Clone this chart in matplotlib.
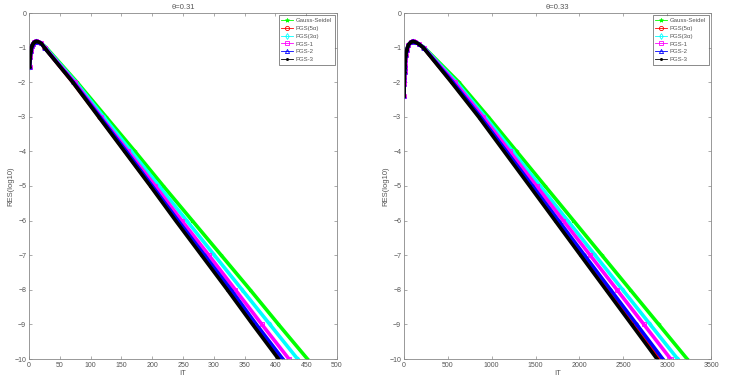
import numpy as np
import matplotlib
matplotlib.use('Agg')
import matplotlib.pyplot as plt

# ---- data ----
labels = ['Gauss-Seidel', 'PGS(5\u03b1)', 'PGS(3\u03b1)', 'PGS-1', 'PGS-2', 'PGS-3']
titles = ['\u03b8=0.31', '\u03b8=0.33']

# common start of every curve (iteration, log10 residual)
it_start_31 = [1, 2, 3, 4, 5, 6, 8, 10, 12, 15, 20]
res_start_31 = [-1.55, -1.27, -1.1, -1.0, -0.94, -0.9, -0.85, -0.83, -0.82, -0.83, -0.88]
it_start_33 = [1, 2, 3, 4, 6, 8, 10, 15, 20, 30, 50, 80, 100, 130, 170]
res_start_33 = [-2.4, -2.05, -1.95, -1.85, -1.7, -1.6, -1.5, -1.35, -1.22, -1.08, -0.92, -0.84, -0.82, -0.84, -0.9]

# iteration where each curve crosses these residual levels
levels = [-1, -2, -3, -4, -5, -6, -7, -8, -9, -10]

gs_31 = [28, 78, 125, 172, 218, 265, 312, 359, 405, 452]
pgs5a_31 = [25, 71, 114, 156, 198, 240, 282, 324, 366, 408]
pgs3a_31 = [27, 76, 121, 166, 211, 256, 301, 346, 391, 436]
pgs1_31 = [26, 74, 117, 161, 205, 248, 292, 335, 378, 422]
pgs2_31 = [25, 72, 115, 158, 200, 242, 285, 328, 369, 412]
pgs3_31 = [25, 71, 113, 155, 197, 238, 280, 322, 363, 405]

gs_33 = [232, 625, 960, 1284, 1608, 1932, 2256, 2580, 2904, 3228]
pgs5a_33 = [221, 548, 861, 1155, 1450, 1743, 2036, 2331, 2625, 2920]
pgs3a_33 = [228, 598, 925, 1239, 1553, 1866, 2179, 2493, 2806, 3120]
pgs1_33 = [225, 578, 900, 1205, 1511, 1816, 2122, 2428, 2734, 3040]
pgs2_33 = [222, 556, 871, 1168, 1465, 1762, 2058, 2356, 2653, 2950]
pgs3_33 = [220, 540, 850, 1141, 1432, 1722, 2012, 2303, 2594, 2885]

colors = [(0, 1, 0), (1, 0, 0), (0, 1, 1), (1, 0, 1), (0, 0, 1), (0, 0, 0)]
markers = ['*', 'o', 'd', 's', '^', '.']

panels = [
    (it_start_31, res_start_31, [gs_31, pgs5a_31, pgs3a_31, pgs1_31, pgs2_31, pgs3_31], 500, 50),
    (it_start_33, res_start_33, [gs_33, pgs5a_33, pgs3a_33, pgs1_33, pgs2_33, pgs3_33], 3500, 500),
]

txt = '#555555'
plt.rcParams['font.family'] = ['Arial', 'Liberation Sans', 'DejaVu Sans']
plt.rcParams['font.size'] = 5

fig = plt.figure(figsize=(7.49, 3.87), dpi=100)
rects = [[29/749, 28/387, 308/749, 346/387], [404/749, 28/387, 307/749, 346/387]]

for p, (its, ress, series, xmax, xstep) in enumerate(panels):
    ax = fig.add_axes(rects[p])
    for k in range(len(series)):
        x = list(its) + list(series[k])
        y = list(ress) + levels
        ax.plot(x, y, color=colors[k], marker=markers[k], markersize=2.5,
                markeredgewidth=0.6, markerfacecolor='none' if k in (1, 2, 3, 4) else colors[k],
                linewidth=2.6, label=labels[k])
    ax.set_xlim(0, xmax)
    ax.set_ylim(-10, 0)
    ax.set_xticks(np.arange(0, xmax + 1, xstep))
    ax.set_yticks(np.arange(-10, 1, 1))
    ax.tick_params(direction='in', top=True, right=True, length=2.5, width=0.5,
                   colors='#888888', labelcolor=txt, labelsize=5, pad=2)
    for s in ax.spines.values():
        s.set_color('#888888')
        s.set_linewidth(0.6)
    ax.set_title(titles[p], fontsize=5.5, color=txt, pad=3)
    ax.set_xlabel('IT', fontsize=5.5, color=txt, labelpad=1)
    ax.set_ylabel('RES(log10)', fontsize=5.5, color=txt, labelpad=0)
    leg = ax.legend(loc='upper right', fontsize=4.3, frameon=True, fancybox=False,
                    borderaxespad=0.4, handlelength=2.0, handletextpad=0.5,
                    labelspacing=0.45, borderpad=0.4)
    leg.get_frame().set_edgecolor('#333333')
    leg.get_frame().set_linewidth(0.5)
    for h in leg.get_lines():
        h.set_linewidth(0.6)
        h.set_markersize(3)
    for t in leg.get_texts():
        t.set_color(txt)

fig.savefig('out.png', dpi=100)
